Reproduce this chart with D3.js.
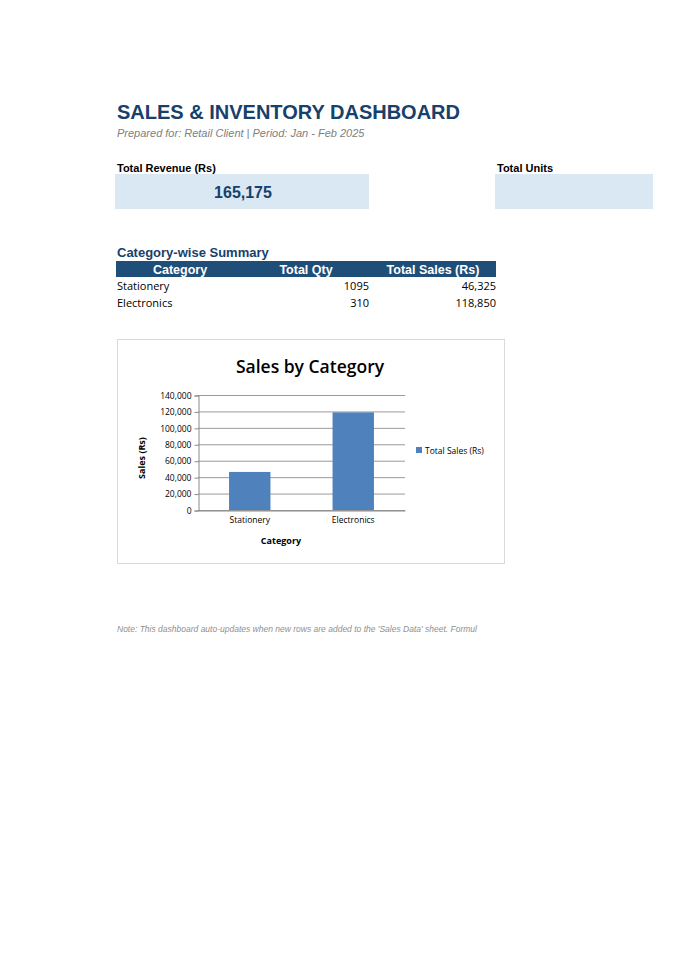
<!DOCTYPE html>
<html><head><meta charset="utf-8">
<script src="https://cdn.jsdelivr.net/npm/d3@7"></script>
<style>body{margin:0;background:#fff}</style></head>
<body><svg id="c" width="680" height="961"></svg>
<script>
const categories = ["Stationery", "Electronics"];
const totalQty = [1095, 310];
const totalSales = [46325, 118850];
const yTicks = [0, 20000, 40000, 60000, 80000, 100000, 120000, 140000];
const totalRevenue = 165175;

const svg = d3.select("#c");
const AR = "'Liberation Sans', Arial, sans-serif";
const CA = "'Open Sans', 'DejaVu Sans', sans-serif";
const navy = "#1f4e79";
const fmt = d3.format(",");

svg.append("text").attr("x",117).attr("y",119).attr("font-family",AR).attr("font-weight","bold")
  .attr("font-size",20).attr("fill","#17406b").text("SALES & INVENTORY DASHBOARD");
svg.append("text").attr("x",117).attr("y",137).attr("font-family",AR).attr("font-style","italic")
  .attr("font-size",11).attr("fill","#808080").text("Prepared for: Retail Client | Period: Jan - Feb 2025");

svg.append("text").attr("x",117).attr("y",172).attr("font-family",AR).attr("font-weight","bold")
  .attr("font-size",11).attr("fill","#000").text("Total Revenue (Rs)");
svg.append("rect").attr("x",115).attr("y",174).attr("width",254).attr("height",35).attr("fill","#dae8f4");
svg.append("text").attr("x",243).attr("y",198).attr("text-anchor","middle").attr("font-family",AR).attr("font-weight","bold")
  .attr("font-size",16).attr("fill","#17406b").text(fmt(totalRevenue));
svg.append("text").attr("x",497).attr("y",172).attr("font-family",AR).attr("font-weight","bold")
  .attr("font-size",11).attr("fill","#000").text("Total Units");
svg.append("rect").attr("x",553).attr("y",160).attr("width",20).attr("height",14).attr("fill","#fff");
svg.append("rect").attr("x",495).attr("y",174).attr("width",158).attr("height",35).attr("fill","#dae8f4");

svg.append("text").attr("x",117).attr("y",257).attr("font-family",AR).attr("font-weight","bold")
  .attr("font-size",13).attr("fill","#17406b").text("Category-wise Summary");
svg.append("rect").attr("x",116).attr("y",261).attr("width",380).attr("height",16).attr("fill",navy);
[["Category",180,"middle"],["Total Qty",306,"middle"],["Total Sales (Rs)",433,"middle"]].forEach(h=>
  svg.append("text").attr("x",h[1]).attr("y",274).attr("text-anchor",h[2]).attr("font-family",AR)
    .attr("font-weight","bold").attr("font-size",12.5).attr("fill","#fff").text(h[0]));
categories.forEach((c,i)=>{
  const y=290+i*17;
  svg.append("text").attr("x",117).attr("y",y).attr("font-family",CA).attr("font-size",11).text(c);
  svg.append("text").attr("x",369).attr("y",y).attr("text-anchor","end").attr("font-family",CA).attr("font-size",11).text(totalQty[i]);
  svg.append("text").attr("x",496).attr("y",y).attr("text-anchor","end").attr("font-family",CA).attr("font-size",11).text(fmt(totalSales[i]));
});

// chart
svg.append("rect").attr("x",117.5).attr("y",339.5).attr("width",387).attr("height",224).attr("fill","#fff").attr("stroke","#d9d9d9");
svg.append("text").attr("x",310).attr("y",373).attr("text-anchor","middle").attr("font-family",CA)
  .attr("font-weight","600").attr("font-size",17.5).attr("fill","#000").text("Sales by Category");
const x = d3.scaleBand().domain(categories).range([198,405]).paddingInner(0.6).paddingOuter(0.3);
const y = d3.scaleLinear().domain([0,140000]).range([510,395]);
const g = svg.append("g");
g.selectAll(".gl").data(yTicks).join("line").attr("x1",198).attr("x2",405)
  .attr("y1",d=>y(d)+0.5).attr("y2",d=>y(d)+0.5).attr("stroke","#9a9a9a").attr("stroke-width",1);
g.selectAll(".b").data(categories).join("rect").attr("x",d=>x(d)).attr("width",x.bandwidth())
  .attr("y",(d,i)=>y(totalSales[i])).attr("height",(d,i)=>510-y(totalSales[i])).attr("fill","#4f81bd");
const ya = svg.append("g").attr("transform","translate(198.5,0.5)")
  .call(d3.axisLeft(y).tickValues(yTicks).tickFormat(fmt).tickSize(4));
ya.selectAll("text").attr("font-family",CA).attr("font-size",8.5).attr("fill","#000");
ya.selectAll("line,path").attr("stroke","#8a8a8a");
const xa = svg.append("g").attr("transform","translate(0,510.5)")
  .call(d3.axisBottom(x).tickSize(0).tickPadding(6));
xa.selectAll("text").attr("font-family",CA).attr("font-size",8.5).attr("fill","#000");
xa.select("path").attr("stroke","#8a8a8a");
svg.append("text").attr("x",281).attr("y",544).attr("text-anchor","middle").attr("font-family",CA)
  .attr("font-weight","bold").attr("font-size",9).text("Category");
svg.append("text").attr("transform","translate(145,458) rotate(-90)").attr("text-anchor","middle")
  .attr("font-family",CA).attr("font-weight","bold").attr("font-size",9).text("Sales (Rs)");
svg.append("rect").attr("x",416).attr("y",447).attr("width",6).attr("height",6).attr("fill","#4f81bd");
svg.append("text").attr("x",425).attr("y",454).attr("font-family",CA).attr("font-size",8.5).text("Total Sales (Rs)");

svg.append("text").attr("x",117).attr("y",632).attr("font-family",AR).attr("font-style","italic")
  .attr("font-size",8.5).attr("fill","#909090")
  .text("Note: This dashboard auto-updates when new rows are added to the 'Sales Data' sheet. Formul");
</script></body></html>
